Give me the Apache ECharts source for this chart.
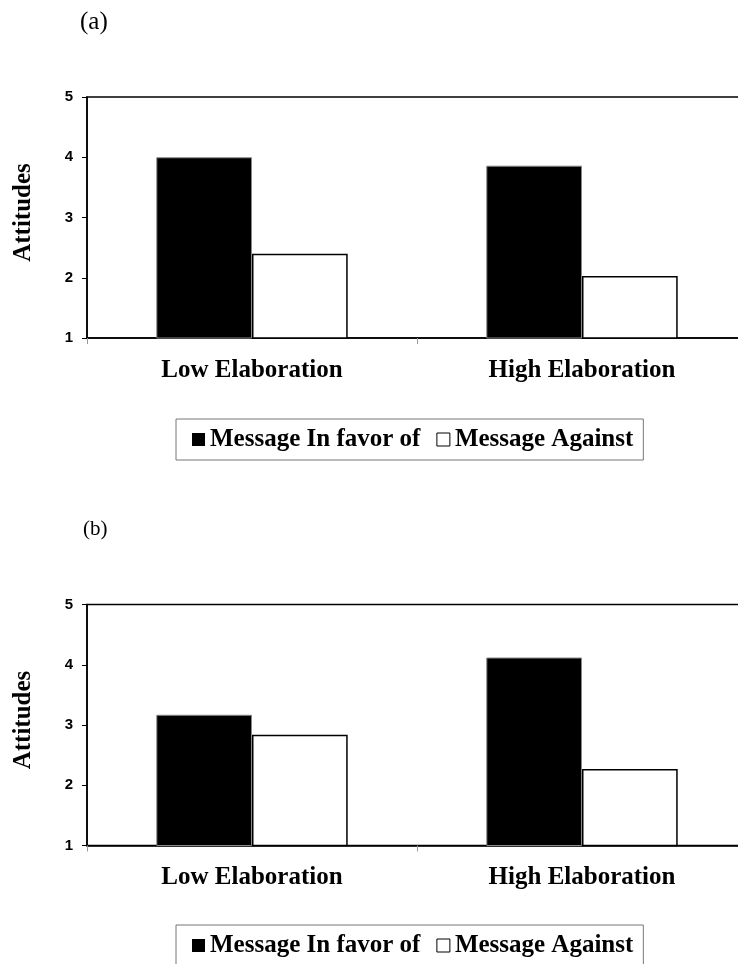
<!DOCTYPE html>
<html>
<head>
<meta charset="utf-8">
<script src="https://cdn.jsdelivr.net/npm/echarts@6/dist/echarts.min.js"></script>
<style>html,body{margin:0;padding:0;background:#fff}#c{width:738px;height:964px}</style>
</head>
<body>
<div id="c"></div>
<script>
const categories = ['Low Elaboration', 'High Elaboration'];
const seriesNames = ['Message In favor of', 'Message Against'];
const favorA = [4.0, 3.86];
const againstA = [2.40, 2.03];
const favorB = [3.17, 4.12];
const againstB = [2.84, 2.27];
const panelLabels = ['(a)', '(b)'];
const yMin = 1, yMax = 5, yInterval = 1;

const serif = 'Liberation Serif';
const sans = 'Liberation Sans';

function grid(top) {
  return { left: 87, top: top, width: 660, height: 241, show: true, borderColor: '#000', borderWidth: 1.5,
           backgroundColor: 'transparent', outerBoundsMode: 'none', containLabel: false };
}
function xAxis(gi) {
  return {
    type: 'category', gridIndex: gi, data: categories,
    axisLine: { lineStyle: { color: '#000', width: 1.5 } },
    axisTick: { show: true, length: 6, lineStyle: { color: '#999', width: 1 } },
    axisLabel: { color: '#000', fontFamily: serif, fontWeight: 'bold', fontSize: 25, margin: 20 }
  };
}
function yAxis(gi) {
  return {
    type: 'value', gridIndex: gi, min: yMin, max: yMax, interval: yInterval,
    name: 'Attitudes', nameLocation: 'middle', nameGap: 51,
    nameTextStyle: { color: '#000', fontFamily: serif, fontWeight: 'bold', fontSize: 25, padding: [0, 0, 0, 10] },
    axisLine: { show: true, lineStyle: { color: '#000', width: 1.5 } },
    axisTick: { show: true, length: 5, lineStyle: { color: '#000', width: 1 } },
    splitLine: { show: false },
    axisLabel: { color: '#000', fontFamily: sans, fontWeight: 'bold', fontSize: 15, margin: 14 }
  };
}
const favorStyle = { color: '#000', borderColor: '#888', borderWidth: 1 };
const againstStyle = { color: '#fff', borderColor: '#000', borderWidth: 1.5 };
function bars(gi, fav, ag) {
  return [
    { type: 'bar', name: seriesNames[0], xAxisIndex: gi, yAxisIndex: gi, data: fav, itemStyle: favorStyle, barGap: '0%', barCategoryGap: '42%' },
    { type: 'bar', name: seriesNames[1], xAxisIndex: gi, yAxisIndex: gi, data: ag, itemStyle: againstStyle, barGap: '0%', barCategoryGap: '42%' }
  ];
}
function legend(top) {
  return {
    left: 176, top: top, icon: 'rect', itemWidth: 13, itemHeight: 13, itemGap: 16,
    data: [
      { name: seriesNames[0], itemStyle: { color: '#000', borderColor: '#000', borderWidth: 0 } },
      { name: seriesNames[1], itemStyle: { color: '#fff', borderColor: '#000', borderWidth: 1 } }
    ],
    borderColor: '#777', borderWidth: 1, padding: [8, 10, 8, 16], selectedMode: false,
    textStyle: { color: '#000', fontFamily: serif, fontWeight: 'bold', fontSize: 25 }
  };
}

const chart = echarts.init(document.getElementById('c'), null, { renderer: 'canvas' });
chart.setOption({
  animation: false,
  backgroundColor: '#fff',
  title: [
    { text: panelLabels[0], left: 80, top: 10, padding: 0, textStyle: { color: '#000', fontFamily: serif, fontWeight: 'normal', fontSize: 25 } },
    { text: panelLabels[1], left: 83, top: 519, padding: 0, textStyle: { color: '#000', fontFamily: serif, fontWeight: 'normal', fontSize: 21 } }
  ],
  grid: [grid(97), grid(604.5)],
  xAxis: [xAxis(0), xAxis(1)],
  yAxis: [yAxis(0), yAxis(1)],
  legend: [legend(419), legend(925)],
  series: [...bars(0, favorA, againstA), ...bars(1, favorB, againstB)]
});
</script>
</body>
</html>
